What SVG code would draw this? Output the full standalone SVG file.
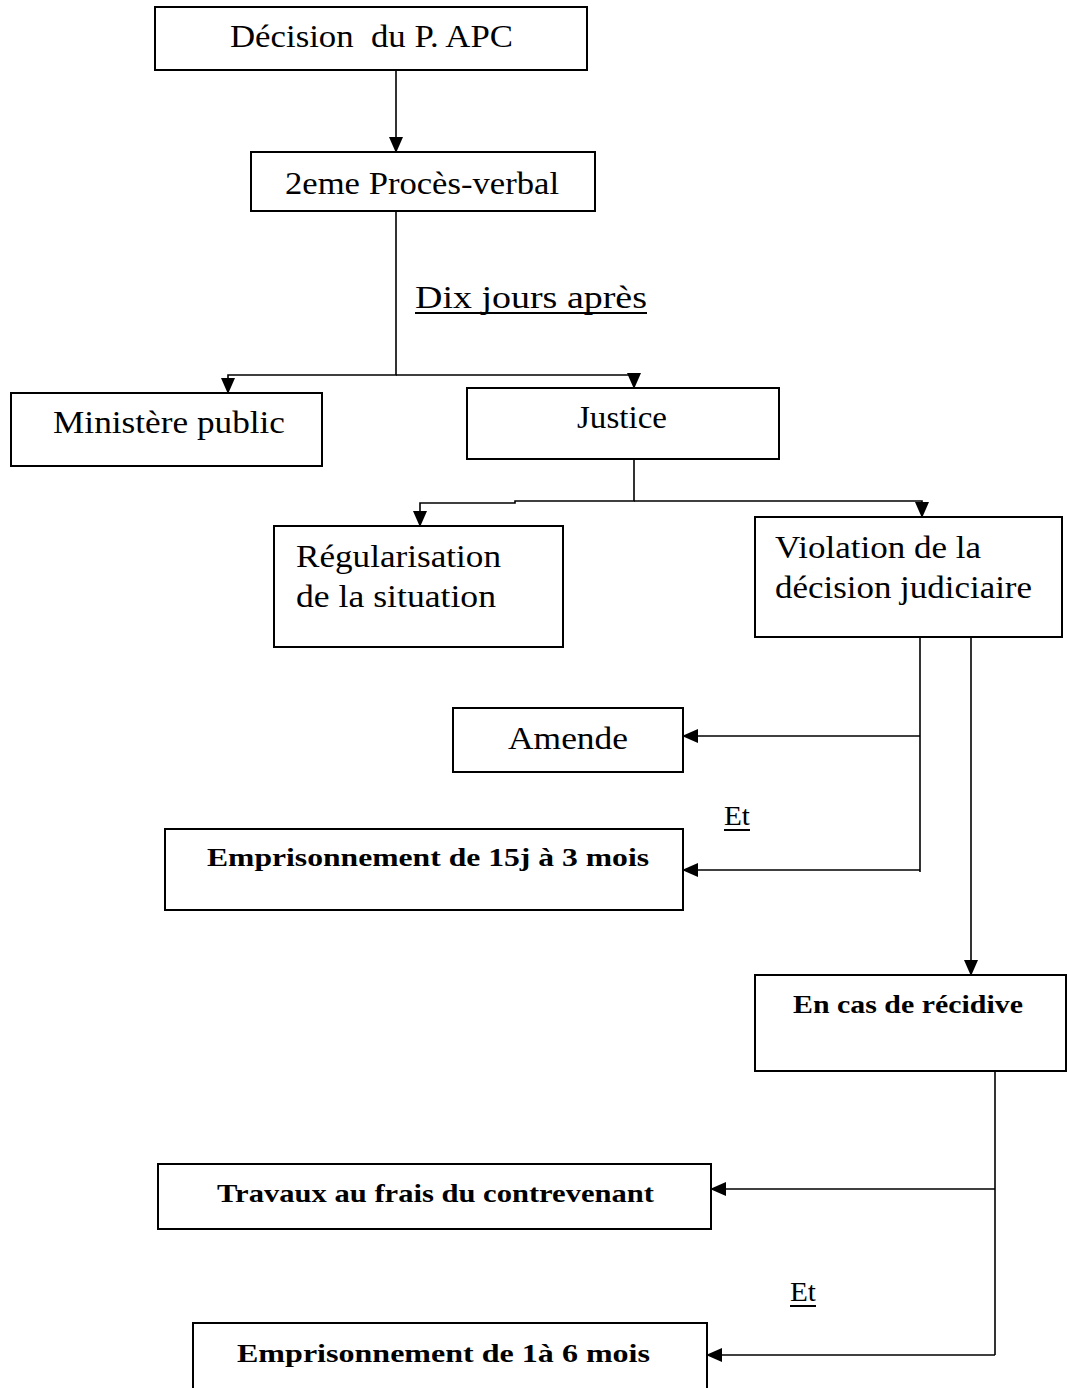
<svg xmlns="http://www.w3.org/2000/svg" width="1067" height="1388" viewBox="0 0 1067 1388">
<style>
.box{fill:#fff;stroke:#000;stroke-width:2}
.t{font-family:"Liberation Serif","Times New Roman",serif;font-size:32px;fill:#000}
.e{font-family:"Liberation Serif","Times New Roman",serif;font-size:27px;fill:#000}
.b{font-family:"Liberation Serif","Times New Roman",serif;font-size:26px;font-weight:bold;fill:#000}
.c{fill:none;stroke:#000;stroke-width:1.6}
.u{stroke:#000;stroke-width:2}
</style>
<defs>
<marker id="ah" markerUnits="userSpaceOnUse" markerWidth="16" markerHeight="14" viewBox="0 0 16 14" refX="15" refY="7" orient="auto">
<path d="M0,0 L16,7 L0,14 Z" fill="#000"/>
</marker>
</defs>
<rect width="1067" height="1388" fill="#fff"/>
<g id="connectors">
<path class="c" d="M396 70 V152" marker-end="url(#ah)"/>
<path class="c" d="M396 211 V375 H228 V393" marker-end="url(#ah)"/>
<path class="c" d="M396 375 H634 V388" marker-end="url(#ah)"/>
<path class="c" d="M634 459 V501 H515 V503 H420 V526" marker-end="url(#ah)"/>
<path class="c" d="M634 501 H922 V517" marker-end="url(#ah)"/>
<path class="c" d="M920 627 V872"/>
<path class="c" d="M920 736 H683" marker-end="url(#ah)"/>
<path class="c" d="M920 870 H683" marker-end="url(#ah)"/>
<path class="c" d="M971 627 V975" marker-end="url(#ah)"/>
<path class="c" d="M995 1071 V1355"/>
<path class="c" d="M995 1189 H711" marker-end="url(#ah)"/>
<path class="c" d="M995 1355 H707" marker-end="url(#ah)"/>
</g>
<g id="n-decision">
<rect class="box" x="155" y="7" width="432" height="63"/>
<text class="t" x="230" y="47" textLength="283" lengthAdjust="spacingAndGlyphs" xml:space="preserve">Décision  du P. APC</text>
</g>
<g id="n-pv">
<rect class="box" x="251" y="152" width="344" height="59"/>
<text class="t" x="285" y="194" textLength="274" lengthAdjust="spacingAndGlyphs">2eme Procès-verbal</text>
</g>
<g id="label-dix">
<text class="t" x="415" y="308" textLength="232" lengthAdjust="spacingAndGlyphs">Dix jours après</text>
<line class="u" x1="415" y1="313" x2="647" y2="313"/>
</g>
<g id="n-ministere">
<rect class="box" x="11" y="393" width="311" height="73"/>
<text class="t" x="53" y="433" textLength="232" lengthAdjust="spacingAndGlyphs">Ministère public</text>
</g>
<g id="n-justice">
<rect class="box" x="467" y="388" width="312" height="71"/>
<text class="t" x="577" y="428" textLength="90" lengthAdjust="spacingAndGlyphs">Justice</text>
</g>
<g id="n-regularisation">
<rect class="box" x="274" y="526" width="289" height="121"/>
<text class="t" x="296" y="567" textLength="205" lengthAdjust="spacingAndGlyphs">Régularisation</text>
<text class="t" x="296" y="607" textLength="200" lengthAdjust="spacingAndGlyphs">de la situation</text>
</g>
<g id="n-violation">
<rect class="box" x="755" y="517" width="307" height="120"/>
<text class="t" x="775" y="558" textLength="206" lengthAdjust="spacingAndGlyphs">Violation de la</text>
<text class="t" x="775" y="598" textLength="257" lengthAdjust="spacingAndGlyphs">décision judiciaire</text>
</g>
<g id="n-amende">
<rect class="box" x="453" y="708" width="230" height="64"/>
<text class="t" x="508" y="749" textLength="120" lengthAdjust="spacingAndGlyphs">Amende</text>
</g>
<g id="label-et1">
<text class="e" x="724" y="825" textLength="26" lengthAdjust="spacingAndGlyphs">Et</text>
<line class="u" x1="724" y1="830" x2="750" y2="830"/>
</g>
<g id="n-emp1">
<rect class="box" x="165" y="829" width="518" height="81"/>
<text class="b" x="207" y="866" textLength="442" lengthAdjust="spacingAndGlyphs">Emprisonnement de 15j à 3 mois</text>
</g>
<g id="n-recidive">
<rect class="box" x="755" y="975" width="311" height="96"/>
<text class="b" x="793" y="1013" textLength="230" lengthAdjust="spacingAndGlyphs">En cas de récidive</text>
</g>
<g id="n-travaux">
<rect class="box" x="158" y="1164" width="553" height="65"/>
<text class="b" x="217" y="1202" textLength="437" lengthAdjust="spacingAndGlyphs">Travaux au frais du contrevenant</text>
</g>
<g id="label-et2">
<text class="e" x="790" y="1301" textLength="26" lengthAdjust="spacingAndGlyphs">Et</text>
<line class="u" x1="790" y1="1306" x2="816" y2="1306"/>
</g>
<g id="n-emp2">
<rect class="box" x="193" y="1323" width="514" height="90"/>
<text class="b" x="237" y="1362" textLength="413" lengthAdjust="spacingAndGlyphs">Emprisonnement de 1à 6 mois</text>
</g>
</svg>
